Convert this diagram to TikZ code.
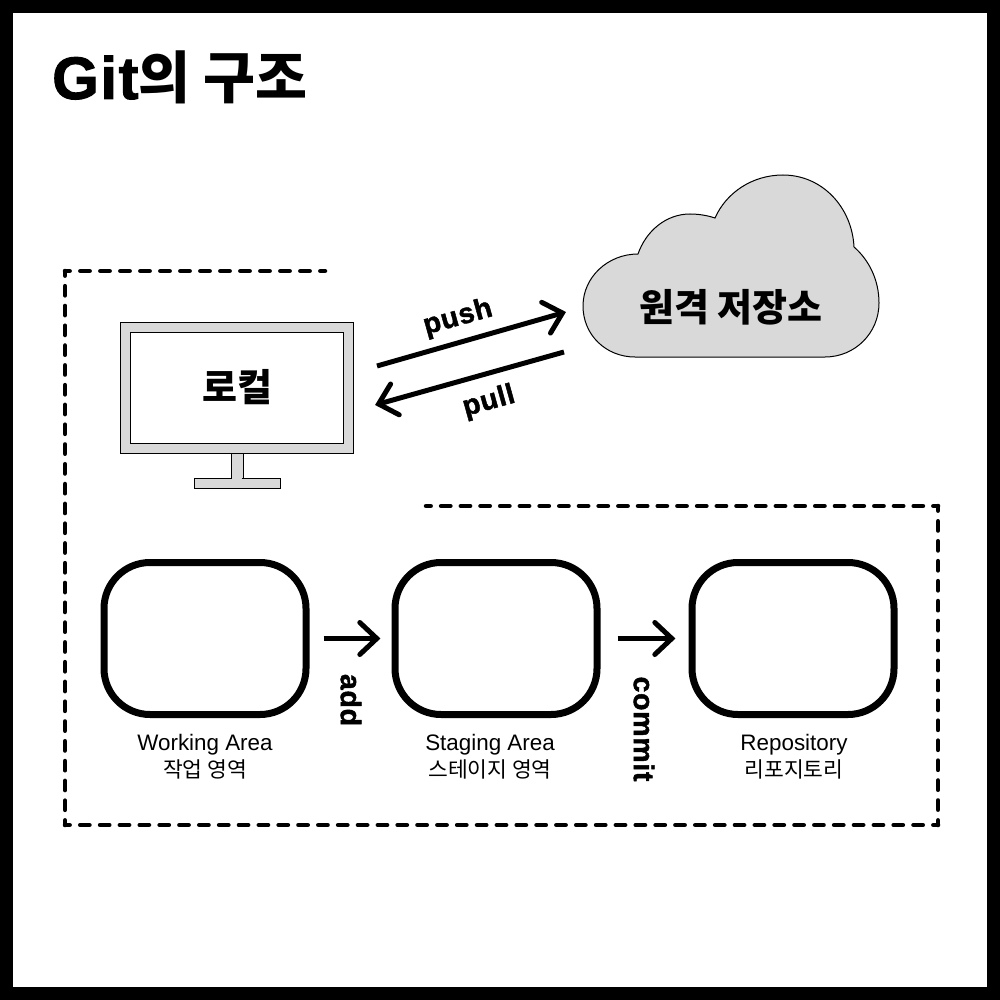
\documentclass[tikz,border=0pt]{standalone}
\usepackage{fontspec}
\usetikzlibrary{arrows.meta}
\setmainfont{Liberation Sans}
\newfontfamily\krblack{Noto Sans CJK KR Black}
\newfontfamily\krlight{Noto Sans CJK KR}
\newfontfamily\heavy[FakeBold=1.6,LetterSpace=2.5]{Liberation Sans Bold}
\newcommand{\krline}[1]{{\krlight\fontsize{21.5}{27}\selectfont #1}}
\definecolor{panel}{HTML}{D9D9D9}
\pgfdeclarearrow{
  name=OpenVee,
  parameters={x},
  setup code={\pgfarrowssettipend{3.7pt}\pgfarrowssetlineend{0pt}\pgfarrowssetbackend{-19pt}\pgfarrowssetvisualbackend{-19pt}},
  drawing code={%
    \pgfsetdash{}{0pt}\pgfsetlinewidth{5pt}\pgfsetmiterjoin\pgfsetroundcap
    \pgfpathmoveto{\pgfpoint{-17pt}{16pt}}%
    \pgfpathlineto{\pgfpointorigin}%
    \pgfpathlineto{\pgfpoint{-17pt}{-16pt}}%
    \pgfusepathqstroke
  }
}
\tikzset{
  x=1pt,y=-1pt,
  frameline/.style={draw=black,line width=13pt},
  dashseg/.style={draw=black,line width=4.5pt,line cap=round,dash pattern=on 9.3pt off #1pt,dash phase=4.65pt},
  grey/.style={draw=black,line width=1pt,fill=panel},
  stage/.style={draw=black,line width=7pt,rounded corners=46pt,fill=white,minimum width=202pt,minimum height=152pt,inner sep=0pt},
  arrowline/.style={draw=black,line width=5pt,-OpenVee},
  caption/.style={font=\fontsize{22.4}{27}\selectfont,align=center,inner sep=0pt},
  verb/.style={font=\heavy\fontsize{28.5}{32}\selectfont,inner sep=0pt},
  kr/.style={font=\krblack\fontsize{38}{42}\selectfont,inner sep=0pt},
}
\begin{document}
\begin{tikzpicture}
\useasboundingbox (0,0) rectangle (1000,1000);
\fill[white] (0,0) rectangle (1000,1000);
\draw[frameline] (6.5,6.5) rectangle (993.5,993.5);
\node[anchor=base west,inner sep=0pt] (title) at (52,99) {{\heavy\fontsize{60}{64}\selectfont Git}{\krblack\fontsize{56.5}{60}\selectfont 의 구조}};
% dashed enclosure
\coordinate (c1) at (325,271);
\coordinate (c2) at (65,271);
\coordinate (c3) at (65,825);
\coordinate (c4) at (938,825);
\coordinate (c5) at (938,506);
\coordinate (c6) at (426,506);
\draw[dashseg=10.7] (c2) -- (c1);
\draw[dashseg=10.486] (c2) -- (c3);
\draw[dashseg=10.54] (c3) -- (c4);
\draw[dashseg=10.64] (c4) -- (c5);
\draw[dashseg=10.39] (c5) -- (c6);
% monitor
\path[grey] (231,450) rectangle (243,480);
\path[grey] (194.5,478) rectangle (280.5,488);
\fill[panel] (232,470) rectangle (242,479);
\node[grey,minimum width=233pt,minimum height=131pt,inner sep=0pt] (mon) at (237,387.5) {};
\node[draw=black,line width=1pt,fill=white,minimum width=213.5pt,minimum height=111pt,inner sep=0pt,kr] (local) at (237,387.5) {로컬};
% cloud
\path[grey] (638,254) .. controls (608,254) and (583,277) .. (583,306)
  .. controls (583,335) and (606,357) .. (635,357) -- (825,357)
  .. controls (855,357) and (879,333) .. (879,303)
  .. controls (879,280) and (869,260) .. (854,247)
  .. controls (852,207) and (822,175) .. (783,175)
  .. controls (752,175) and (726,193) .. (715,218)
  .. controls (706,215) and (697,214) .. (690,214)
  .. controls (666,214) and (646,231) .. (638,254) -- cycle;
\node[kr] (remote) at (731,307) {원격 저장소};
% stages
\node[stage] (wa) at (205,638.5) {};
\node[stage] (sa) at (496,638.5) {};
\node[stage] (re) at (793,638.5) {};
\node[caption] (walabel) at (205,757) {Working Area\\\krline{작업 영역}};
\node[caption] (salabel) at (490,757) {Staging Area\\\krline{스테이지 영역}};
\node[caption] (relabel) at (794,757) {Repository\\\krline{리포지토리}};
\coordinate (p1) at (377,366);
\coordinate (p2) at (566,312);
\coordinate (q1) at (564,352);
\coordinate (q2) at (375,405);
\draw[arrowline] (p1) -- (p2);
\draw[arrowline] (q1) -- (q2);
\node[verb,rotate=15.5] (push) at (458,318) {push};
\node[verb,rotate=15.5] (pull) at (489,402) {pull};
\draw[arrowline,shorten <=14pt,shorten >=11pt] (wa.east) -- (sa.west);
\draw[arrowline,shorten <=17pt,shorten >=13pt] (sa.east) -- (re.west);
\node[verb,rotate=-90] (add) at (351,700) {add};
\node[verb,rotate=-90] (commit) at (644,729) {commit};
\end{tikzpicture}
\end{document}
